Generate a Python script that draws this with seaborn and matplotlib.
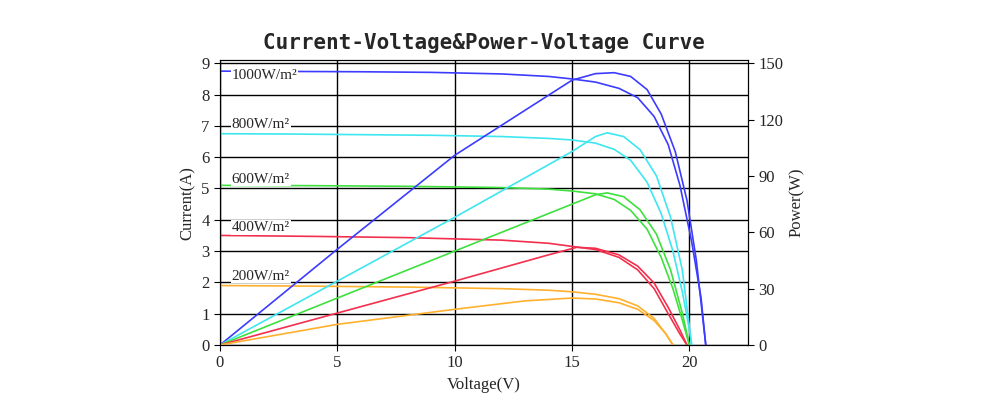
# I-V and P-V curves of a PV module at five irradiance levels
import matplotlib
matplotlib.use('Agg')
import matplotlib.pyplot as plt
import seaborn as sns

labels = ['1000W/m²', '800W/m²', '600W/m²', '400W/m²', '200W/m²']
colors = ['#3c3cff', '#3ee6f0', '#3ee03e', '#f2304e', '#ffb02e']

# current curves (voltage, current)
iv_v = [
    [0, 3, 6, 9, 12, 14, 15, 16, 17, 17.8, 18.5, 19.1, 19.6, 20.1, 20.5, 20.7],
    [0, 3, 6, 9, 12, 14, 15, 16, 16.8, 17.5, 18.2, 18.8, 19.3, 19.7, 20.0, 20.1],
    [0, 4, 8, 12, 14, 15, 16, 16.8, 17.5, 18.2, 18.8, 19.3, 19.7, 20.0],
    [0, 4, 8, 12, 14, 15, 16, 17, 17.8, 18.5, 19.1, 19.6, 19.9],
    [0, 4, 8, 12, 14, 15, 16, 17, 17.8, 18.5, 19.0, 19.3],
]
iv_i = [
    [8.75, 8.74, 8.73, 8.71, 8.66, 8.58, 8.5, 8.4, 8.2, 7.9, 7.3, 6.4, 5.1, 3.3, 1.5, 0],
    [6.75, 6.74, 6.72, 6.7, 6.66, 6.6, 6.55, 6.45, 6.25, 5.9, 5.2, 4.2, 3.0, 1.7, 0.5, 0],
    [5.1, 5.09, 5.07, 5.03, 4.98, 4.92, 4.83, 4.65, 4.3, 3.7, 2.8, 1.8, 0.8, 0],
    [3.5, 3.47, 3.43, 3.35, 3.25, 3.15, 3.05, 2.8, 2.4, 1.8, 1.0, 0.35, 0],
    [1.9, 1.88, 1.85, 1.8, 1.75, 1.7, 1.62, 1.48, 1.25, 0.85, 0.35, 0],
]
# power curves (voltage, power)
pv_v = [
    [0, 5, 10, 15, 16, 16.8, 17.5, 18.2, 18.8, 19.4, 19.9, 20.3, 20.7],
    [0, 5, 10, 15, 16, 16.5, 17.2, 17.9, 18.6, 19.2, 19.7, 20.1],
    [0, 5, 10, 15, 16, 16.5, 17.2, 17.9, 18.6, 19.2, 19.7, 20.0],
    [0, 5, 10, 14, 15.2, 16, 17, 17.8, 18.5, 19.1, 19.6, 19.9],
    [0, 5, 10, 13, 15, 16, 17, 17.8, 18.5, 19.0, 19.3],
]
pv_p = [
    [0, 51, 101, 141, 144.5, 145, 143, 136, 123, 103, 77, 45, 0],
    [0, 34, 68, 103, 111, 113, 111, 104, 90, 68, 40, 0],
    [0, 25, 50, 75, 80, 81, 79, 72, 59, 40, 17, 0],
    [0, 17, 34, 48, 52, 51.5, 48, 42, 33, 20, 8, 0],
    [0, 11, 19, 23.5, 25, 24.5, 22.5, 19, 13, 6, 0],
]
label_y = [8.6, 7.05, 5.3, 3.75, 2.2]

sns.set_style('white')
plt.rcParams['font.family'] = ['Liberation Serif', 'DejaVu Serif']

fig = plt.figure(figsize=(10, 4.11), dpi=100)
ax = fig.add_axes([0.22, 0.1606, 0.528, 0.693])
ax2 = ax.twinx()

for k in range(5):
    sns.lineplot(x=iv_v[k], y=iv_i[k], ax=ax, color=colors[k], lw=1.2,
                 estimator=None, sort=False)
    sns.lineplot(x=pv_v[k], y=pv_p[k], ax=ax2, color=colors[k], lw=1.2,
                 estimator=None, sort=False)
    ax.text(0.5, label_y[k], labels[k], fontsize=11, va='center', ha='left',
            bbox=dict(facecolor='white', edgecolor='none', pad=0.5), zorder=5)

ax.set_xlim(0, 22.5)
ax.set_ylim(0, 9.1)
ax2.set_ylim(0, 9.1 / 9 * 150)
ax.set_xticks([0, 5, 10, 15, 20])
ax.set_yticks(range(10))
ax2.set_yticks([0, 30, 60, 90, 120, 150])
ax.grid(True, color='black', lw=1)
ax.xaxis.grid(True)
for a in (ax, ax2):
    for s in a.spines.values():
        s.set_color('black')
    a.tick_params(labelsize=12, length=4, color='black')
ax.tick_params(bottom=True, left=True)
ax2.tick_params(right=True)
ax.set_xlabel('Voltage(V)', fontsize=12)
ax.set_ylabel('Current(A)', fontsize=12)
ax2.set_ylabel('Power(W)', fontsize=12)
ax.set_title('Current-Voltage&Power-Voltage Curve', fontsize=15,
             fontweight='bold', family='DejaVu Sans Mono', pad=8)
ax.set_axisbelow(True)

plt.savefig('out.png', dpi=100)
